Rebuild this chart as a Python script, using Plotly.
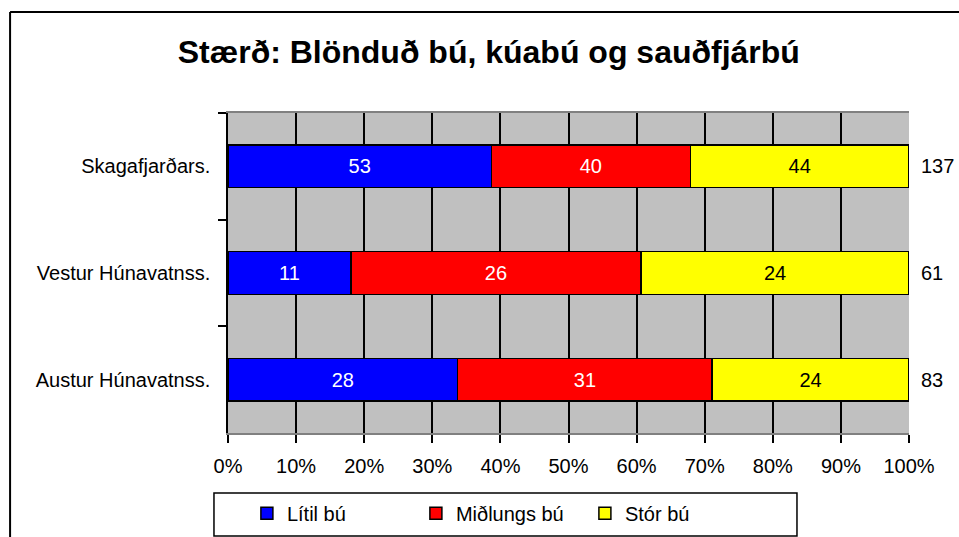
import plotly.graph_objects as go

categories = ["Skagafjarðars.", "Vestur Húnavatnss.", "Austur Húnavatnss."]
litil = [53, 11, 28]
midlungs = [40, 26, 31]
stor = [44, 24, 24]
x_ticks = [0, 10, 20, 30, 40, 50, 60, 70, 80, 90, 100]

series = [
    ("Lítil bú", litil, "#0000FF", "white"),
    ("Miðlungs bú", midlungs, "#FF0000", "white"),
    ("Stór bú", stor, "#FFFF00", "black"),
]

FONT = "Liberation Sans, Arial, sans-serif"
FS = 20

fig = go.Figure()
for name, vals, color, tcolor in series:
    fig.add_trace(go.Bar(
        y=categories, x=vals, name=name, orientation="h",
        marker=dict(color=color, line=dict(color="black", width=1.5)),
        text=[str(v) for v in vals], textposition="inside",
        insidetextanchor="middle", textangle=0,
        textfont=dict(color=tcolor, size=FS, family=FONT),
        width=0.4, hoverinfo="skip",
    ))

totals = [a + b + c for a, b, c in zip(litil, midlungs, stor)]
for cat, tot in zip(categories, totals):
    fig.add_annotation(x=100, y=cat, xref="x", yref="y", text=str(tot),
                       showarrow=False, xanchor="left", xshift=10,
                       font=dict(size=FS, color="black", family=FONT))

# outer chart frame (left and top edges visible)
fig.add_shape(type="line", xref="paper", yref="paper", x0=-0.32, x1=-0.32,
              y0=1.3156, y1=-1, line=dict(color="black", width=2))
fig.add_shape(type="line", xref="paper", yref="paper", x0=-0.32, x1=1.2,
              y0=1.3156, y1=1.3156, line=dict(color="black", width=2))
# legend frame (wider than plotly's own legend box)
fig.add_shape(type="rect", xref="paper", yref="paper", x0=-0.0206, x1=0.8355,
              y0=-0.1875, y1=-0.322, line=dict(color="black", width=1.5))

fig.update_layout(
    barmode="stack", barnorm="percent",
    width=959, height=537,
    margin=dict(l=228, r=50, t=113, b=104, autoexpand=False),
    paper_bgcolor="white", plot_bgcolor="#C0C0C0",
    font=dict(family=FONT, size=FS, color="black"),
    title=dict(text="<b>Stærð: Blönduð bú, kúabú og sauðfjárbú</b>",
               x=0.383, xref="paper", xanchor="center",
               y=0.903, yanchor="middle",
               font=dict(size=32, family=FONT)),
    showlegend=True,
    legend=dict(orientation="h", x=0.4, xref="paper", xanchor="center",
                y=-0.19, yanchor="top", borderwidth=0, bgcolor="rgba(0,0,0,0)",
                entrywidth=124, entrywidthmode="pixels",
                font=dict(size=FS, family=FONT), traceorder="normal"),
    uniformtext=dict(minsize=10, mode="show"),
)
fig.update_xaxes(range=[0, 100], tickvals=x_ticks,
                 ticktext=[f"{t}%" for t in x_ticks],
                 showgrid=True, gridcolor="black", gridwidth=1.5,
                 ticks="outside", ticklen=8, tickcolor="black", tickwidth=1.5,
                 showline=True, linecolor="#808080", linewidth=1.5, mirror=True,
                 zeroline=False, tickfont=dict(size=FS), ticklabelstandoff=6)
fig.update_yaxes(autorange="reversed", showgrid=False,
                 ticks="outside", tickson="boundaries", ticklen=8,
                 tickcolor="black", tickwidth=1.5,
                 showline=True, linecolor="black", linewidth=1.5,
                 tickfont=dict(size=FS), ticklabelstandoff=12)

# drop the default page margin so the figure fills the window exactly
fig.write_html("out.html", config={"displayModeBar": False},
               post_script="document.body.style.margin='0';"
                           "document.body.style.overflow='hidden';")
